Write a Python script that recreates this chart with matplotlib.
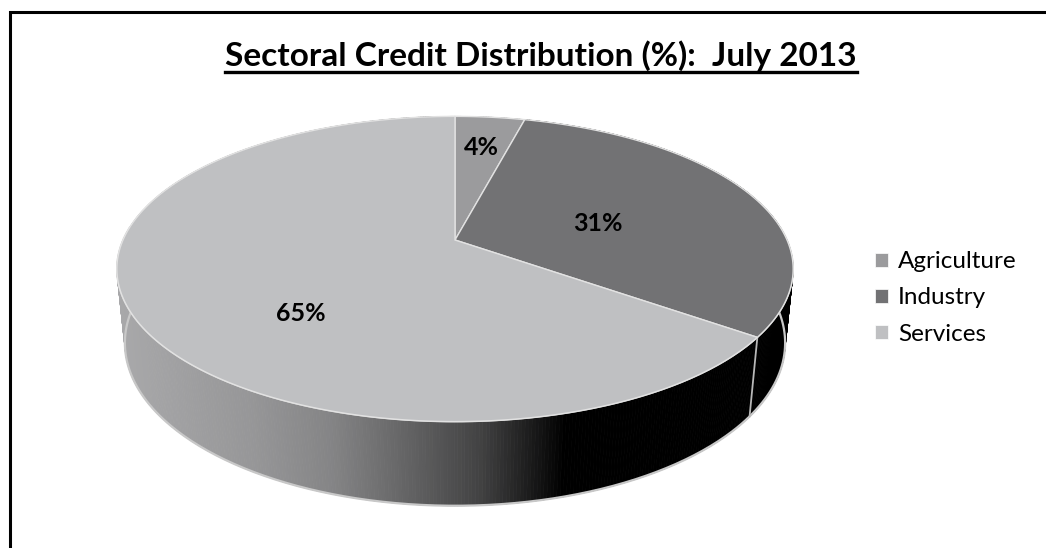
import numpy as np
import matplotlib.pyplot as plt
from matplotlib.patches import Polygon, Rectangle
from matplotlib.collections import PolyCollection
from matplotlib.lines import Line2D

sectors = ['Agriculture', 'Industry', 'Services']
shares = [4, 31, 65]
share_labels = ['4%', '31%', '65%']
title = 'Sectoral Credit Distribution (%):  July 2013'

top_colors = ['#9b9b9d', '#727274', '#bfc0c2']

plt.rcParams['font.family'] = ['Lato', 'DejaVu Sans']

# 3d look: tilt of the disc, camera distance, thickness (radius = 1)
tilt = np.radians(26.3)
dist = 4.72
thick = 0.25
px = 332.0  # pixels per unit radius


def project(phi, r=1.0, y=0.0):
    x = r * np.sin(phi)
    z = r * np.cos(phi)
    v = y * np.cos(tilt) + z * np.sin(tilt)
    w = z * np.cos(tilt) - y * np.sin(tilt)
    s = dist / (dist + w)
    return x * s, v * s


fig = plt.figure(figsize=(10.46, 5.48), dpi=100)
ax = fig.add_axes([0, 0, 1, 1])
ax.set_xlim(-455 / px, (1046 - 455) / px)
ax.set_ylim(-(548 - 240) / px, 240 / px)
ax.axis('off')

frac = np.array(shares, dtype=float) / sum(shares)
bounds = np.concatenate([[0], np.cumsum(frac)]) * 2 * np.pi

# side wall, drawn back to front
def wall_gray(xpix):
    return np.interp(xpix, [118, 250, 330, 390, 480, 540, 565],
                     [0.66, 0.59, 0.52, 0.42, 0.26, 0.08, 0.0])

quads, cols, depth = [], [], []
for i in range(len(shares)):
    ph = np.linspace(bounds[i], bounds[i + 1], max(4, int(frac[i] * 720)))
    for a, b in zip(ph[:-1], ph[1:]):
        x1, y1 = project(a)
        x2, y2 = project(b)
        x3, y3 = project(b, y=-thick)
        x4, y4 = project(a, y=-thick)
        quads.append([(x1, y1), (x2, y2), (x3, y3), (x4, y4)])
        if sectors[i] == 'Services':
            g = wall_gray(455 + px * (x1 + x2) / 2)
            c = (g, g, min(1.0, g * 1.01))
        elif sectors[i] == 'Industry':
            c = (0, 0, 0)
        else:
            c = (0.45, 0.45, 0.46)
        cols.append(c)
        depth.append(np.cos((a + b) / 2))
order = np.argsort(depth)[::-1]
pc = PolyCollection([quads[k] for k in order], facecolors=[cols[k] for k in order],
                    edgecolors=[cols[k] for k in order], linewidths=0.6)
ax.add_collection(pc)

# rims
front = np.linspace(np.radians(85), np.radians(275), 300)
bx, by = project(front, y=-thick)
ax.plot(bx, by, color='#c8c8c8', lw=1.6, zorder=3)
tx, ty = project(front)
ax.plot(tx, ty, color='#d8d8d8', lw=1.2, zorder=3)

# slice edge visible on the wall
ex1, ey1 = project(bounds[2])
ex2, ey2 = project(bounds[2], y=-thick)
ax.plot([ex1, ex2], [ey1, ey2], color='#b8b8b8', lw=1.3, zorder=3)

# top face
for i in range(len(shares)):
    ph = np.linspace(bounds[i], bounds[i + 1], 200)
    xs, ys = project(ph)
    pts = np.column_stack([np.r_[0, xs], np.r_[0, ys]])
    ax.add_patch(Polygon(pts, closed=True, facecolor=top_colors[i],
                         edgecolor='#e2e2e2', lw=1.0, zorder=4))

# data labels
label_r = [0.72, 0.47, 0.5]
label_dy = [0.0, -0.02, -0.115]
for i in range(len(shares)):
    mid = (bounds[i] + bounds[i + 1]) / 2
    lx, ly = project(mid, r=label_r[i])
    ax.text(lx, ly + label_dy[i], share_labels[i], ha='center', va='center',
            fontsize=18, fontweight='bold', color='black', zorder=5)

# title with underline
t = fig.text(541 / 1046, 1 - 56 / 548, title, ha='center', va='center',
             fontsize=24, fontweight='bold')
fig.canvas.draw()
bb = t.get_window_extent(fig.canvas.get_renderer())
uy = 1 - 72 / 548
fig.add_artist(Line2D([bb.x0 / 1046, bb.x1 / 1046], [uy, uy], color='black',
                      lw=2.4, transform=fig.transFigure))

# legend
handles = [Rectangle((0, 0), 1, 1, facecolor=c, edgecolor='white', lw=0.5)
           for c in top_colors]
fig.legend(handles, sectors, loc='center left',
           bbox_to_anchor=(875 / 1046, 1 - 298 / 548), frameon=False,
           fontsize=17.5, handlelength=0.55, handleheight=0.55,
           handletextpad=0.4, labelspacing=0.62, borderpad=0, borderaxespad=0)

# chart frame
fig.add_artist(Rectangle((10 / 1046, -0.1), 1.2, 1.1 - 12.5 / 548, fill=False,
                         ec='black', lw=2.2, transform=fig.transFigure))

fig.savefig('out.png', dpi=100)
